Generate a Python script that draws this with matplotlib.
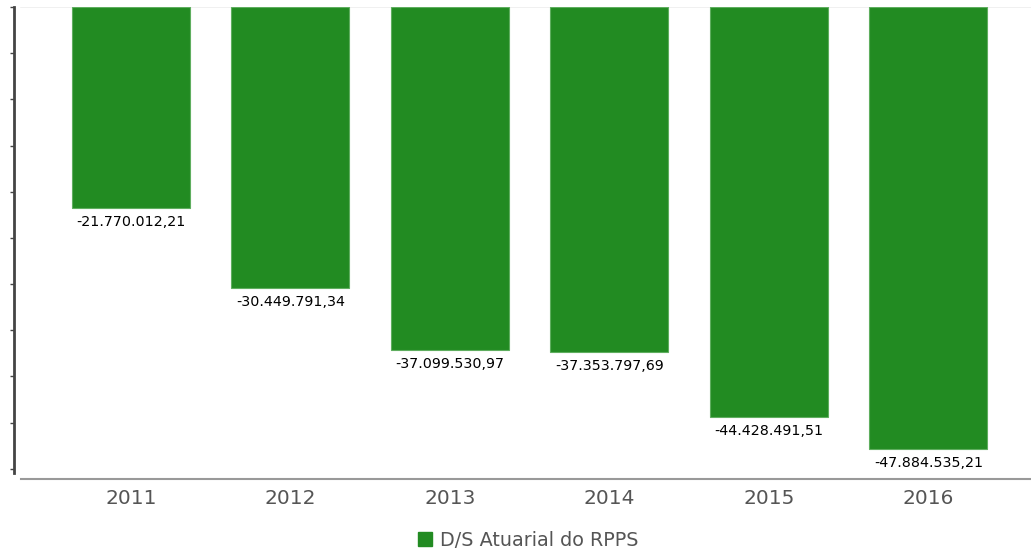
import matplotlib.pyplot as plt
from matplotlib.patches import Patch

anos = ['2011', '2012', '2013', '2014', '2015', '2016']
valores = [-21770012.21, -30449791.34, -37099530.97, -37353797.69, -44428491.51, -47884535.21]
rotulos = ['-21.770.012,21', '-30.449.791,34', '-37.099.530,97',
           '-37.353.797,69', '-44.428.491,51', '-47.884.535,21']
serie = 'D/S Atuarial do RPPS'

W, H = 1031, 553
fig = plt.figure(figsize=(W / 100, H / 100), dpi=100)
ax = fig.add_axes([14 / W, 1 - 479 / H, 1 - 14 / W, (479 - 7) / H])

verde = '#228B22'
x = list(range(len(anos)))
ax.bar(x, valores, width=0.74, color=verde, edgecolor='#5fae5f', linewidth=0.8, zorder=3)

for xi, v, r in zip(x, valores, rotulos):
    ax.annotate(r, (xi, v), xytext=(0, -5), textcoords='offset points',
                ha='center', va='top', fontsize=10.3, color='black')

ymin = -51.1e6
ax.set_ylim(ymin, 0)
ax.set_xlim(-0.7335, 5.643)

ax.set_yticks([-i * 5e6 for i in range(11)])
ax.set_yticklabels([])
ax.tick_params(axis='y', direction='out', length=3, width=1, color='#444')
ax.set_xticks(x)
ax.set_xticklabels(anos, fontsize=14.5, color='#555')
ax.tick_params(axis='x', length=0, pad=7)

for s in ['top', 'right', 'bottom']:
    ax.spines[s].set_visible(False)
ax.spines['left'].set_color('#444')
ax.spines['left'].set_linewidth(2)
ax.spines['left'].set_bounds(-50.4e6, 0)

x0 = 7 / (W - 14)
ax.axhline(ymin, xmin=x0, xmax=1, color='#999', linewidth=1.5, clip_on=False, zorder=4)
ax.axhline(0, xmin=x0, xmax=1, color='#eeeeee', linewidth=1.2, zorder=2)

fig.legend(handles=[Patch(color=verde, label=serie)], loc='center',
           bbox_to_anchor=(528 / W, 1 - 540 / H), frameon=False, fontsize=13.8,
           handlelength=0.75, handleheight=0.75, handletextpad=0.4, labelcolor='#555')

fig.savefig('out.png', dpi=100)
